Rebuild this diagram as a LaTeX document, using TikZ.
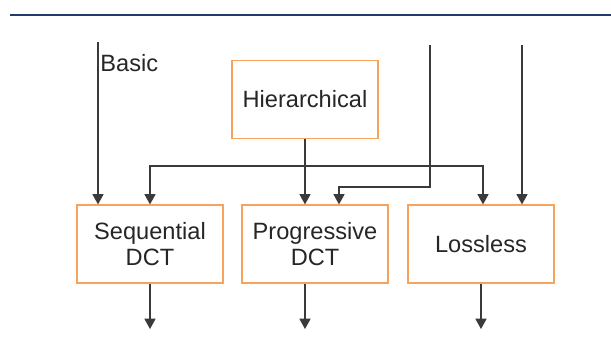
\documentclass[tikz,border=0pt]{standalone}
\usepackage{fontspec}
\setmainfont{Liberation Sans}
\usetikzlibrary{arrows.meta,positioning,calc}
\definecolor{boxorange}{HTML}{F7A35C}
\definecolor{linegray}{HTML}{3A3A3A}
\definecolor{rulenavy}{HTML}{1F3D6B}

\begin{document}
\begin{tikzpicture}[
  x=0.5pt, y=-0.5pt,
  mode/.style={rectangle, draw=boxorange, line width=0.6pt, align=center, minimum width=73pt, minimum height=39pt, inner sep=0pt, font=\fontsize{11.8}{12.6}\selectfont, text=black!85},
  arrow/.style={-{Triangle[length=5.2pt,width=5.6pt]}, line width=0.55pt, draw=linegray}
]
\useasboundingbox (0,0) rectangle (611,338);
\draw[rulenavy, line width=0.6pt] (10,15) -- (611,15);

\node[mode] (hier) at (305,99.5) {Hierarchical};
\node[mode] (seq) at (150,244) {Sequential\\DCT};
\node[mode] (prog) at (315,244) {Progressive\\DCT};
\node[mode] (loss) at (481,244) {Lossless};

\node[anchor=west, inner sep=0pt, font=\fontsize{11.8}{12.6}\selectfont, text=black!85] (basic) at (100,63) {Basic};

\coordinate (in1) at (98,42);
\coordinate (in2) at (430,45);
\coordinate (in3) at (522,45);
\coordinate (split) at (305,166);
\coordinate (bend) at (339,187);
\coordinate (out1) at (150,329);
\coordinate (out2) at (305,329);
\coordinate (out3) at (481,329);

\draw[arrow] (in1) -- (in1 |- seq.north);
\draw[arrow] (hier.south) -- (hier.south |- prog.north);
\draw[arrow] (split) -| (seq.north);
\draw[arrow] (split) -| ($(loss.north)+(2,0)$);
\draw[arrow] (in2) |- (bend) -- (bend |- prog.north);
\draw[arrow] (in3) -- (in3 |- loss.north);
\draw[arrow] (seq.south) -- (out1);
\draw[arrow] (hier.south |- prog.south) -- (out2);
\draw[arrow] (loss.south) -- (out3);
\end{tikzpicture}
\end{document}
